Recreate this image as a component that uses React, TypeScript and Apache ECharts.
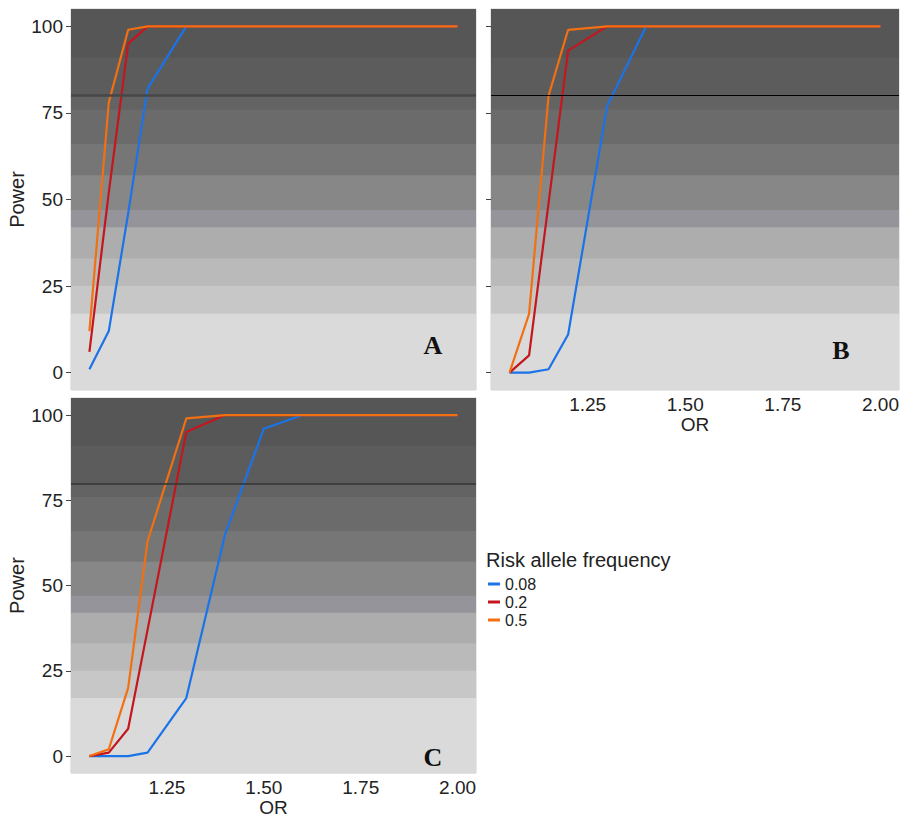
import React, { useEffect, useRef } from "react";
import * as echarts from "echarts";

// ---- data ----
const orValues = [1.05, 1.1, 1.15, 1.2, 1.3, 1.4, 1.5, 1.6, 1.7, 1.8, 1.9, 2.0];
const freqNames = ["0.08", "0.2", "0.5"];

// Panel A
const blueA = [1, 12, 46, 82, 100, 100, 100, 100, 100, 100, 100, 100];
const redA = [6, 52, 95, 100, 100, 100, 100, 100, 100, 100, 100, 100];
const orangeA = [12, 78, 99, 100, 100, 100, 100, 100, 100, 100, 100, 100];
// Panel B
const blueB = [0, 0, 1, 11, 77, 100, 100, 100, 100, 100, 100, 100];
const redB = [0, 5, 49, 93, 100, 100, 100, 100, 100, 100, 100, 100];
const orangeB = [0, 17, 80, 99, 100, 100, 100, 100, 100, 100, 100, 100];
// Panel C
const blueC = [0, 0, 0, 1, 17, 65, 96, 100, 100, 100, 100, 100];
const redC = [0, 1, 8, 37, 95, 100, 100, 100, 100, 100, 100, 100];
const orangeC = [0, 2, 20, 63, 99, 100, 100, 100, 100, 100, 100, 100];

const xTicks = [1.25, 1.5, 1.75, 2.0];
const yTicks = [0, 25, 50, 75, 100];
const powerThreshold = 80;
const panelLetters = ["A", "B", "C"];

// background band lower edges (power units), top of all bands is 105
const bandEdges = [-5, 17, 25, 33, 42, 47, 57, 66, 76, 80, 91];
const bandTop = 105;

// ---- styles ----
const bandColors = [
  "#dadada", "#c7c7c7", "#bababa", "#adadad", "#94949a",
  "#878787", "#767676", "#6b6b6b", "#636363", "#5c5c5c", "#565656",
];
const lineColors = ["#1a73e8", "#c4161c", "#f26f12"];
const FONT = "'Liberation Sans', Arial, sans-serif";

const grids = [
  { left: 71, top: 9, width: 405, height: 381 },
  { left: 491, top: 9, width: 408, height: 381 },
  { left: 71, top: 398, width: 405, height: 378 },
];
const thresholdStyles = [
  { color: "#474747", width: 2.5 },
  { color: "#000000", width: 1.2 },
  { color: "#333333", width: 1.5 },
];
const letterPos = [
  { x: 433, y: 345 },
  { x: 841, y: 350 },
  { x: 433, y: 757 },
];

const panelsData = [
  [blueA, redA, orangeA],
  [blueB, redB, orangeB],
  [blueC, redC, orangeC],
];

export default function App() {
  const ref = useRef<HTMLDivElement>(null);

  useEffect(() => {
    if (!ref.current) return;
    const chart = echarts.init(ref.current, undefined, { renderer: "svg" });

    const showXLabels = [false, true, true];
    const showYLabels = [true, false, true];

    const xAxes = grids.map((_, i) => ({
      type: "value",
      gridIndex: i,
      min: 1.0025,
      max: 2.0475,
      name: showXLabels[i] ? "OR" : "",
      nameLocation: "middle",
      nameGap: 24,
      nameTextStyle: { fontFamily: FONT, fontSize: 19, color: "#222" },
      axisLine: { show: false },
      splitLine: { show: false },
      axisTick: {
        show: true,
        length: 4,
        lineStyle: { color: "#444" },
        customValues: xTicks,
      },
      axisLabel: {
        show: showXLabels[i],
        margin: 5,
        fontFamily: FONT,
        fontSize: 19,
        color: "#222",
        customValues: xTicks,
        formatter: (v: number) => v.toFixed(2),
      },
    }));

    const yAxes = grids.map((_, i) => ({
      type: "value",
      gridIndex: i,
      min: -5,
      max: 105,
      name: showYLabels[i] ? "Power" : "",
      nameLocation: "middle",
      nameGap: 42,
      nameTextStyle: { fontFamily: FONT, fontSize: 20, color: "#222" },
      axisLine: { show: false },
      splitLine: { show: false },
      axisTick: {
        show: true,
        length: 5,
        lineStyle: { color: "#444" },
        customValues: yTicks,
      },
      axisLabel: {
        show: showYLabels[i],
        margin: 8,
        fontFamily: FONT,
        fontSize: 19,
        color: "#222",
        customValues: yTicks,
      },
    }));

    // overlapping bands (each from its lower edge to the top) to avoid seams
    const bandData = bandColors.map((c, k) => [
      { yAxis: bandEdges[k], itemStyle: { color: c, borderWidth: 0 } },
      { yAxis: bandTop },
    ]);

    const series: any[] = [];
    panelsData.forEach((panel, i) => {
      panel.forEach((vals, j) => {
        const s: any = {
          type: "line",
          name: freqNames[j],
          xAxisIndex: i,
          yAxisIndex: i,
          data: orValues.map((x, k) => [x, vals[k]]),
          showSymbol: false,
          symbol: "none",
          lineStyle: { color: lineColors[j], width: 2.2 },
          itemStyle: { color: lineColors[j] },
          z: 2 + j,
          silent: true,
        };
        if (j === 0) {
          s.markArea = {
            silent: true,
            z: 1,
            label: { show: false },
            emphasis: { disabled: true },
            data: bandData,
          };
          s.markLine = {
            silent: true,
            symbol: "none",
            label: { show: false },
            emphasis: { disabled: true },
            lineStyle: {
              type: "solid",
              color: thresholdStyles[i].color,
              width: thresholdStyles[i].width,
            },
            data: [{ yAxis: powerThreshold }],
          };
        }
        series.push(s);
      });
    });

    const option: any = {
      animation: false,
      backgroundColor: "#ffffff",
      grid: grids.map((g) => ({
        ...g,
        containLabel: false,
        show: true,
        backgroundColor: "#dadada",
        borderColor: "#cfcfcf",
        borderWidth: 1,
      })),
      xAxis: xAxes,
      yAxis: yAxes,
      legend: {
        data: freqNames,
        orient: "vertical",
        left: 488,
        top: 575,
        padding: 0,
        itemGap: 0,
        itemWidth: 12,
        itemHeight: 3,
        icon: "rect",
        textStyle: {
          fontFamily: FONT,
          fontSize: 16,
          lineHeight: 18,
          color: "#222",
        },
      },
      graphic: [
        {
          type: "text",
          left: 486,
          top: 550,
          style: {
            text: "Risk allele frequency",
            font: `20px ${FONT}`,
            fill: "#222",
          },
        },
        ...panelLetters.map((L, i) => ({
          type: "text",
          x: letterPos[i].x,
          y: letterPos[i].y,
          style: {
            text: L,
            font: `bold 26px 'Liberation Serif', 'Times New Roman', serif`,
            fill: "#111",
            align: "center",
            verticalAlign: "middle",
          },
          z: 10,
        })),
      ],
      series,
    };

    chart.setOption(option);
    return () => chart.dispose();
  }, []);

  return (
    <div
      ref={ref}
      style={{ position: "fixed", left: 0, top: 0, width: 903, height: 818 }}
    />
  );
}
